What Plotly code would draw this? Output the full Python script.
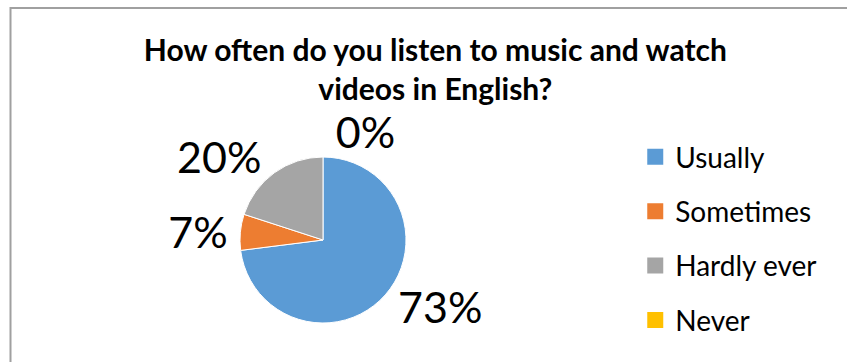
import plotly.graph_objects as go

labels = ["Usually", "Sometimes", "Hardly ever", "Never"]
values = [73, 7, 20, 0]
colors = ["#5B9BD5", "#ED7D31", "#A5A5A5", "#FFC000"]
title_text = "How often do you listen to music and watch<br>videos in English?"

W, H = 847, 362
cx, cy, r = 323, 240, 83

# The zero-valued "Never" slice sits at 12 o'clock either way; listing it first
# lets Plotly place its label on the right-hand side as in the reference.
order = [3, 0, 1, 2]

fig = go.Figure()
fig.add_trace(go.Pie(
    labels=[labels[i] for i in order], values=[values[i] for i in order],
    sort=False, direction="clockwise", rotation=0,
    marker=dict(colors=[colors[i] for i in order], line=dict(color="white", width=1)),
    texttemplate="%{percent:.0%}", textposition="outside",
    textfont=dict(family="Lato", size=43, color="black"),
    showlegend=False, automargin=False,
    domain=dict(x=[(cx - r) / W, (cx + r) / W], y=[(H - cy - r) / H, (H - cy + r) / H]),
    hoverinfo="label+percent",
))
for lab, col in zip(labels, colors):
    fig.add_trace(go.Scatter(
        x=[None], y=[None], mode="markers", name=lab, legendgroup=lab,
        marker=dict(symbol="square", size=16, color=col),
    ))

fig.update_layout(
    width=W, height=H,
    margin=dict(l=0, r=0, t=0, b=0),
    paper_bgcolor="white", plot_bgcolor="white",
    xaxis=dict(visible=False), yaxis=dict(visible=False),
    title=dict(text=title_text, x=0.514, xanchor="center", y=0.832, yanchor="middle",
               font=dict(family="Lato", size=30, color="black", weight="bold")),
    legend=dict(x=0.750, y=0.341, xanchor="left", yanchor="middle",
                font=dict(family="Lato", size=28, color="black"),
                tracegroupgap=15, itemwidth=30, bgcolor="rgba(0,0,0,0)"),
    shapes=[dict(type="rect", xref="paper", yref="paper", x0=10.5 / W, x1=1.02,
                 y0=-0.02, y1=1 - 8 / H, line=dict(color="#a0a0a0", width=2))],
)
fig.write_html("out.html")
